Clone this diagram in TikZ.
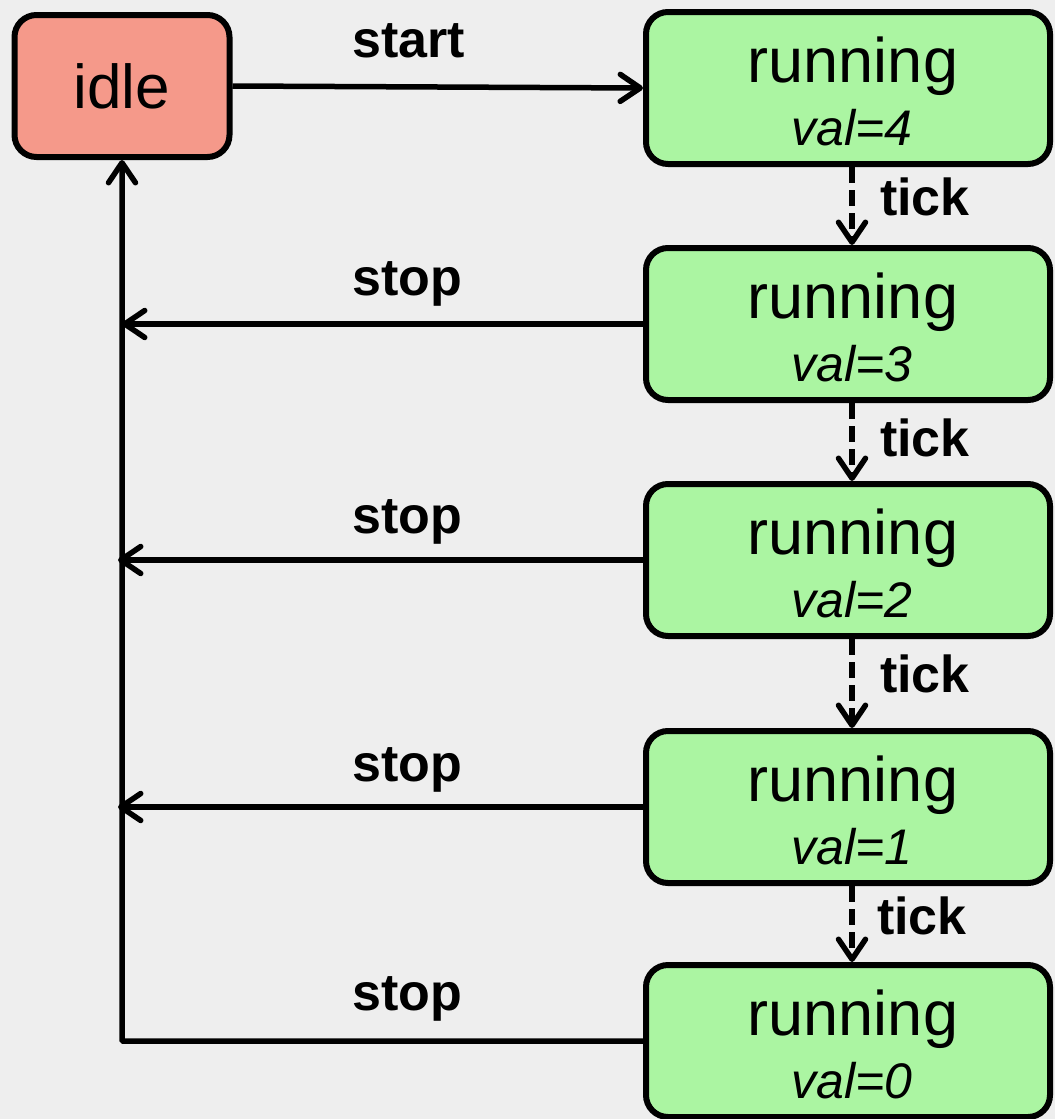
\documentclass[tikz,border=0pt]{standalone}
\usepackage{fontspec}
\setmainfont{Liberation Sans}
\usetikzlibrary{arrows.meta}
\definecolor{bgcol}{HTML}{EEEEEE}
\definecolor{idlecol}{HTML}{F5998A}
\definecolor{runcol}{HTML}{ABF5A2}
\tikzset{
  statebox/.style={draw=black, line width=6pt, rounded corners=22pt,
    inner sep=0pt, align=center},
  idlebox/.style={statebox, fill=idlecol, minimum width=215pt, minimum height=142pt,
    font=\fontsize{62}{62}\selectfont},
  runbox/.style={statebox, fill=runcol, minimum width=404pt, minimum height=152pt,
    font=\fontsize{63}{65}\selectfont},
  edgelbl/.style={anchor=base west, inner sep=0pt, font=\fontsize{52}{52}\selectfont\bfseries},
  flow/.style={line width=5.5pt, -{Straight Barb[length=20pt, width=27pt, line width=5.5pt, round]}},
  tickflow/.style={flow, dash pattern=on 16pt off 7pt},
}
\newcommand{\runtext}[1]{\hspace*{10pt}\rule{0pt}{52pt}running\\[-2pt]%
  \hspace*{8pt}{\fontsize{50}{65}\selectfont\itshape val=#1}}
\begin{document}
\begin{tikzpicture}[x=1pt, y=-1pt]
  % canvas
  \fill[bgcol] (0,0) rectangle (1055,1119);
  \useasboundingbox (0,0) rectangle (1055,1119);

  % states
  \node[idlebox] (idle) at (122,86) {idle};
  \node[runbox] (r4) at (848,88) {\runtext{4}};
  \node[runbox] (r3) at (848,324) {\runtext{3}};
  \node[runbox] (r2) at (848,560) {\runtext{2}};
  \node[runbox] (r1) at (848,807) {\runtext{1}};
  \node[runbox] (r0) at (848,1041) {\runtext{0}};

  % start transition
  \draw[flow] (idle.east) -- (r4.west);
  \node[edgelbl] (lstart) at (352,57) {start};

  % tick transitions
  \draw[tickflow] ([xshift=4pt]r4.south) -- ([xshift=4pt]r3.north);
  \draw[tickflow] ([xshift=4pt]r3.south) -- ([xshift=4pt]r2.north);
  \draw[tickflow] ([xshift=4pt]r2.south) -- ([xshift=4pt]r1.north);
  \draw[tickflow] ([xshift=4pt]r1.south) -- ([xshift=4pt]r0.north);
  \node[edgelbl] (ltick1) at (880,215) {tick};
  \node[edgelbl] (ltick2) at (880,456) {tick};
  \node[edgelbl] (ltick3) at (880,692) {tick};
  \node[edgelbl] (ltick4) at (877,934) {tick};

  % stop transitions back to idle
  \coordinate (s3) at (122,324);
  \coordinate (s2) at (118,560);
  \coordinate (s1) at (118,807);
  \coordinate (s0) at (122,1041);
  \draw[flow] (r3.west) -- (s3);
  \draw[flow] (r2.west) -- (s2);
  \draw[flow] (r1.west) -- (s1);
  \draw[flow, rounded corners=1pt] (r0.west) -- (s0) -- (idle.south);
  \node[edgelbl] (lstop3) at (352,295) {stop};
  \node[edgelbl] (lstop2) at (352,533) {stop};
  \node[edgelbl] (lstop1) at (352,781) {stop};
  \node[edgelbl] (lstop0) at (352,1010) {stop};
\end{tikzpicture}
\end{document}
